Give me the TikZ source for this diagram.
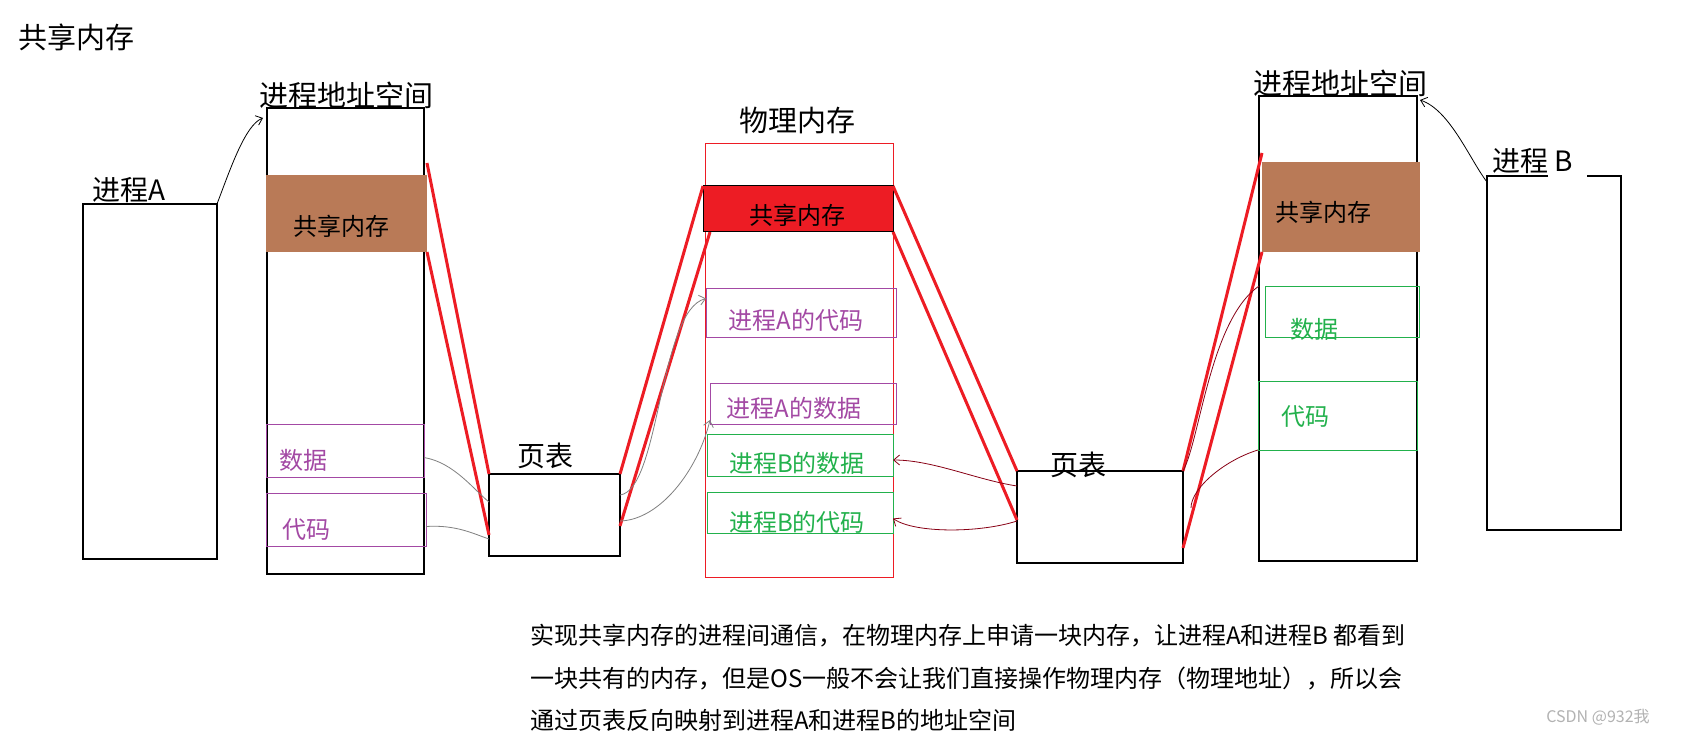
\documentclass[tikz,border=0pt]{standalone}
\usepackage{fontspec}
\setmainfont{Noto Sans CJK SC}
\usetikzlibrary{arrows.meta}

\definecolor{pbrown}{HTML}{B97A57}
\definecolor{pred}{HTML}{ED1C24}
\definecolor{ppurple}{HTML}{A349A4}
\definecolor{pgreen}{HTML}{22B14C}
\definecolor{pdarkred}{HTML}{880015}

\begin{document}
\begin{tikzpicture}[x=1pt, y=-1pt, >={Straight Barb[length=6pt,width=10pt]},
  region/.style={inner sep=0pt, outer sep=0pt, anchor=north west},
  frame/.style={region, draw, line width=1.2pt},
  txtbig/.style={inner sep=0pt, font=\fontsize{29}{32}\selectfont},
  txtmid/.style={inner sep=0pt, font=\fontsize{28}{32}\selectfont},
  txtsm/.style={inner sep=0pt, font=\fontsize{24}{28}\selectfont},
  maplink/.style={pred, line width=3pt},
  trace/.style={line width=0.8pt}]
  \path[use as bounding box, fill=white] (0,0) rectangle (1690,738);
  \node[txtbig] (title) at (77,37) {共享内存};

  % process A and its address space
  \node[frame, minimum width=134pt, minimum height=355pt] (procA) at (83,204) {};
  \node[txtmid] (procAlab) at (129,190) {进程A};
  \node[frame, minimum width=157pt, minimum height=466pt] (asA) at (267,108) {};
  \node[txtbig] (asAlab) at (346,95) {进程地址空间};
  \node[region, fill=pbrown, minimum width=161pt, minimum height=77pt] (shA) at (266,175) {};
  \node[txtsm] (shAlab) at (341,226) {共享内存};
  \node[region, draw=ppurple, line width=1pt, minimum width=158pt, minimum height=53pt] (datA) at (266,424) {};
  \node[txtsm, ppurple] (datAlab) at (303,460) {数据};
  \node[region, draw=ppurple, line width=1pt, minimum width=160pt, minimum height=53pt] (codA) at (266,493) {};
  \node[txtsm, ppurple] (codAlab) at (306,530) {代码};

  % page table A
  \node[frame, minimum width=131pt, minimum height=82pt] (ptA) at (489,474) {};
  \node[txtmid] (ptAlab) at (545,456) {页表};

  % physical memory
  \node[region, draw=pred, line width=1pt, minimum width=188pt, minimum height=433pt] (pm) at (705,144) {};
  \node[txtbig] (pmlab) at (797,121) {物理内存};
  \node[region, draw, fill=pred, line width=1pt, minimum width=190pt, minimum height=46pt] (shP) at (703,186) {};
  \node[txtsm] (shPlab) at (797,215) {共享内存};
  \node[region, draw=ppurple, line width=1pt, minimum width=190pt, minimum height=49pt] (aCode) at (706,288) {};
  \node[txtsm, ppurple] (aCodelab) at (796,320) {进程A的代码};
  \node[region, draw=ppurple, line width=1pt, minimum width=186pt, minimum height=41pt] (aData) at (710,383) {};
  \node[txtsm, ppurple] (aDatalab) at (794,408) {进程A的数据};
  \node[region, draw=pgreen, line width=1pt, minimum width=186pt, minimum height=42pt] (bData) at (707,434) {};
  \node[txtsm, pgreen] (bDatalab) at (797,463) {进程B的数据};
  \node[region, draw=pgreen, line width=1pt, minimum width=186pt, minimum height=41pt] (bCode) at (707,492) {};
  \node[txtsm, pgreen] (bCodelab) at (797,522) {进程B的代码};

  % page table B
  \node[frame, minimum width=166pt, minimum height=92pt] (ptB) at (1017,471) {};
  \node[txtmid] (ptBlab) at (1078,465) {页表};

  % address space B and process B
  \node[frame, minimum width=158pt, minimum height=465pt] (asB) at (1259,96) {};
  \node[txtbig] (asBlab) at (1340,83) {进程地址空间};
  \node[region, fill=pbrown, minimum width=158pt, minimum height=90pt] (shB) at (1262,162) {};
  \node[txtsm] (shBlab) at (1323,212) {共享内存};
  \node[region, draw=pgreen, line width=1pt, minimum width=154pt, minimum height=51pt] (datB) at (1265,286) {};
  \node[txtsm, pgreen] (datBlab) at (1314,329) {数据};
  \node[region, draw=pgreen, line width=1pt, minimum width=159pt, minimum height=69pt] (codB) at (1258,381) {};
  \node[txtsm, pgreen] (codBlab) at (1305,417) {代码};
  \node[region, minimum width=134pt, minimum height=354pt] (procB) at (1487,176) {};
  \draw[line width=1.2pt] ([xshift=61pt]procB.north west) -- (procB.north west)
    -- (procB.south west) -- (procB.south east) -- (procB.north east)
    -- ([xshift=-34pt]procB.north east);
  \node[txtmid] (procBlab) at (1533,161) {进程 B};

  % mapping of the shared block
  \draw[maplink] ([yshift=12pt]shA.north east) -- (ptA.north west);
  \draw[maplink] (shA.south east) -- ([yshift=21pt]ptA.south west);
  \draw[maplink] (ptA.north east) -- (shP.north west);
  \draw[maplink] ([yshift=30pt]ptA.south east) -- ([xshift=7pt]shP.south west);
  \draw[maplink] (shP.north east) -- (ptB.north west);
  \draw[maplink] (shP.south east) -- ([yshift=43pt]ptB.south west);
  \draw[maplink] (ptB.north east) -- ([yshift=9pt]shB.north west);
  \draw[maplink] ([yshift=15pt]ptB.south east) -- (shB.south west);

  % side A traces
  \draw[trace, gray] ([yshift=-7pt]datA.east) .. controls +(30,5) and +(-15,-12) .. ([yshift=-28pt]ptA.north west);
  \draw[trace, gray] ([yshift=-7pt]codA.east) .. controls +(30,-2) and +(-15,-5) .. ([yshift=17pt]ptA.south west);
  \draw[trace, gray, ->] ([yshift=-21pt]ptA.north east) .. controls +(40,-5) and +(-47,12) .. ([yshift=14pt]aCode.west);
  \draw[trace, gray, ->] ([yshift=35pt]ptA.south east) .. controls +(40,-1) and +(-12,50) .. ([yshift=4pt]aData.south west);

  % side B traces
  \draw[trace, pdarkred, ->] ([yshift=-15pt]ptB.north west) .. controls +(-40,-6) and +(40,0) .. ([yshift=-5pt]bData.east);
  \draw[trace, pdarkred, ->] ([yshift=42pt]ptB.south west) .. controls +(-37,12) and +(22,15) .. ([yshift=-6pt]bCode.east);
  \draw[trace, pdarkred] (asB.west |- datB.north) .. controls +(-49,34) and +(17,-31) .. (ptB.north east);
  \draw[trace, pdarkred] (codB.south west) .. controls +(-33,10) and +(0,-20) .. ([xshift=8pt,yshift=9pt]ptB.east);

  % process to address space
  \draw[trace, ->] (procA.north east) .. controls +(13,-34) and +(-18,7) .. ([xshift=-4pt,yshift=-10pt]asA.north west);
  \draw[trace, ->] ([yshift=-6pt]procB.north west) .. controls +(-17,-22) and +(30,10) .. ([xshift=3pt,yshift=-4pt]asB.north east);

  % explanation
  \node[txtsm, anchor=west] (note1) at (530,636) {实现共享内存的进程间通信，在物理内存上申请一块内存，让进程A和进程B 都看到};
  \node[txtsm, anchor=west] (note2) at (530,679) {一块共有的内存，但是OS一般不会让我们直接操作物理内存（物理地址），所以会};
  \node[txtsm, anchor=west] (note3) at (530,720) {通过页表反向映射到进程A和进程B的地址空间};
  \node[inner sep=0pt, font=\fontsize{16}{18}\selectfont, text=black!30] (mark) at (1598,717) {CSDN @932我};
\end{tikzpicture}
\end{document}
